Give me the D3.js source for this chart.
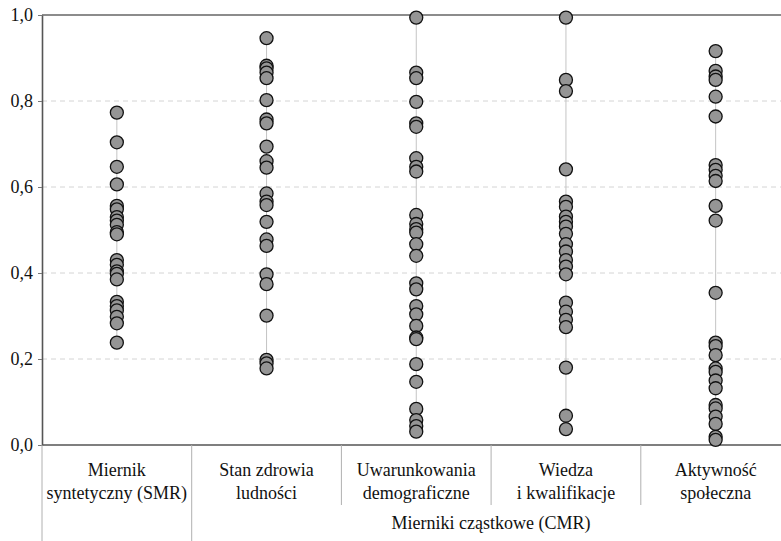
<!DOCTYPE html>
<html>
<head>
<meta charset="utf-8">
<script src="https://cdn.jsdelivr.net/npm/d3@7"></script>
<style>
  body { margin: 0; background: #fff; }
  svg text { font-family: 'Liberation Serif', serif; }
</style>
</head>
<body>
<div id="graph"></div>
<script>
// categories (two-line labels) and the values in each column
var categories = ["SMR", "zdrowie", "demografia", "wiedza", "aktywnosc"];
var categoryLabels = [
    ["Miernik", "syntetyczny (SMR)"],
    ["Stan zdrowia", "ludności"],
    ["Uwarunkowania", "demograficzne"],
    ["Wiedza", "i kwalifikacje"],
    ["Aktywność", "społeczna"]
];
var groupLabel = "Mierniki cząstkowe (CMR)";

var smrValues = [0.773, 0.704, 0.647, 0.606, 0.556, 0.548, 0.530, 0.522, 0.512, 0.495, 0.490,
    0.430, 0.419, 0.404, 0.398, 0.385, 0.333, 0.323, 0.313, 0.298, 0.283, 0.238];
var zdrowieValues = [0.946, 0.882, 0.876, 0.866, 0.853, 0.802, 0.757, 0.748, 0.694, 0.660, 0.645,
    0.585, 0.566, 0.558, 0.519, 0.478, 0.463, 0.397, 0.374, 0.301, 0.198, 0.190, 0.178];
var demografiaValues = [0.994, 0.866, 0.853, 0.798, 0.748, 0.740, 0.667, 0.647, 0.636, 0.535, 0.514,
    0.502, 0.494, 0.467, 0.440, 0.376, 0.362, 0.323, 0.304, 0.277, 0.250, 0.246, 0.188, 0.147,
    0.084, 0.058, 0.044, 0.031];
var wiedzaValues = [0.994, 0.849, 0.823, 0.641, 0.566, 0.554, 0.531, 0.519, 0.508, 0.491, 0.467,
    0.450, 0.430, 0.415, 0.397, 0.331, 0.310, 0.291, 0.274, 0.180, 0.068, 0.037];
var aktywnoscValues = [0.916, 0.870, 0.857, 0.849, 0.810, 0.764, 0.651, 0.640, 0.626, 0.614, 0.556,
    0.522, 0.354, 0.238, 0.230, 0.209, 0.178, 0.170, 0.150, 0.132, 0.093, 0.085, 0.066, 0.049,
    0.019, 0.012];

var yTicks = [0, 0.2, 0.4, 0.6, 0.8, 1.0];

var width = 781;
var height = 541;
var plotLeft = 42, plotRight = 790.5, plotTop = 15, plotBottom = 445;
var labelFont = 'Liberation Serif';
var fontSize = 18;

var columns = [smrValues, zdrowieValues, demografiaValues, wiedzaValues, aktywnoscValues];

var svg = d3.select('#graph')
    .append('svg')
    .attr('width', width)
    .attr('height', height);

var xScale = d3.scaleBand().domain(categories).range([plotLeft, plotRight]);
var yScale = d3.scaleLinear().domain([0, 1]).range([plotBottom, plotTop]);
var center = function(i) { return xScale(categories[i]) + xScale.bandwidth() / 2; };

// dashed grid lines
svg.append('g')
    .selectAll('line')
    .data(yTicks.filter(function(t) { return t > 0 && t < 1; }))
    .enter()
    .append('line')
    .attr('x1', plotLeft).attr('x2', plotRight)
    .attr('y1', function(d) { return yScale(d); })
    .attr('y2', function(d) { return yScale(d); })
    .attr('stroke', '#d4d4d4')
    .attr('stroke-dasharray', '5,4');

// top border
svg.append('line')
    .attr('x1', plotLeft).attr('x2', plotRight)
    .attr('y1', yScale(1)).attr('y2', yScale(1))
    .attr('stroke', '#666').attr('stroke-width', 1.6);

// y axis
var yAxis = svg.append('g')
    .attr('transform', 'translate(' + plotLeft + ',0)')
    .call(d3.axisLeft(yScale).tickValues(yTicks).tickSize(4).tickSizeOuter(0)
        .tickFormat(function(d) { return d3.format('.1f')(d).replace('.', ','); }));
yAxis.attr('font-family', labelFont).attr('font-size', fontSize);
yAxis.select('.domain').attr('stroke', '#555').attr('stroke-width', 1.6);
yAxis.selectAll('.tick line').attr('stroke', '#777');
yAxis.selectAll('.tick text')
    .attr('x', -9)
    .attr('fill', '#111');

// range lines per column
svg.append('g')
    .selectAll('line')
    .data(columns)
    .enter()
    .append('line')
    .attr('x1', function(d, i) { return center(i); })
    .attr('x2', function(d, i) { return center(i); })
    .attr('y1', function(d) { return yScale(d3.max(d)); })
    .attr('y2', function(d) { return yScale(d3.min(d)); })
    .attr('stroke', '#c4c4c4')
    .attr('stroke-width', 1);

// x axis line
svg.append('line')
    .attr('x1', plotLeft).attr('x2', plotRight)
    .attr('y1', plotBottom).attr('y2', plotBottom)
    .attr('stroke', '#555').attr('stroke-width', 1.6);

// separators under the axis
var separators = [
    { x: xScale(categories[0]), y2: 541 },
    { x: xScale(categories[1]), y2: 541 },
    { x: xScale(categories[2]), y2: 505 },
    { x: xScale(categories[3]), y2: 505 },
    { x: xScale(categories[4]), y2: 505 }
];
svg.append('g')
    .selectAll('line')
    .data(separators)
    .enter()
    .append('line')
    .attr('x1', function(d) { return d.x; })
    .attr('x2', function(d) { return d.x; })
    .attr('y1', plotBottom)
    .attr('y2', function(d) { return d.y2; })
    .attr('stroke', '#b0b0b0')
    .attr('stroke-width', 1);

// category labels
var labels = svg.append('g')
    .selectAll('text')
    .data(categoryLabels)
    .enter()
    .append('text')
    .attr('text-anchor', 'middle')
    .attr('font-family', labelFont)
    .attr('font-size', fontSize)
    .attr('fill', '#111')
    .attr('x', function(d, i) { return center(i); })
    .attr('y', 476);
labels.append('tspan')
    .attr('x', function(d, i) { return center(i); })
    .text(function(d) { return d[0]; });
labels.append('tspan')
    .attr('x', function(d, i) { return center(i); })
    .attr('dy', 23)
    .text(function(d) { return d[1]; });

svg.append('text')
    .attr('text-anchor', 'middle')
    .attr('font-family', labelFont)
    .attr('font-size', fontSize)
    .attr('fill', '#111')
    .attr('x', (xScale(categories[1]) + plotRight) / 2)
    .attr('y', 529)
    .text(groupLabel);

// dots
var points = [];
columns.forEach(function(vals, i) {
    vals.forEach(function(v) { points.push({ idx: i, value: v }); });
});

svg.append('g')
    .selectAll('.dot')
    .data(points)
    .enter()
    .append('circle')
    .attr('class', 'dot')
    .attr('cx', function(d) { return center(d.idx); })
    .attr('cy', function(d) { return yScale(d.value); })
    .attr('r', 6.5)
    .attr('fill', '#959595')
    .attr('stroke', '#111')
    .attr('stroke-width', 1.3);
</script>
</body>
</html>
